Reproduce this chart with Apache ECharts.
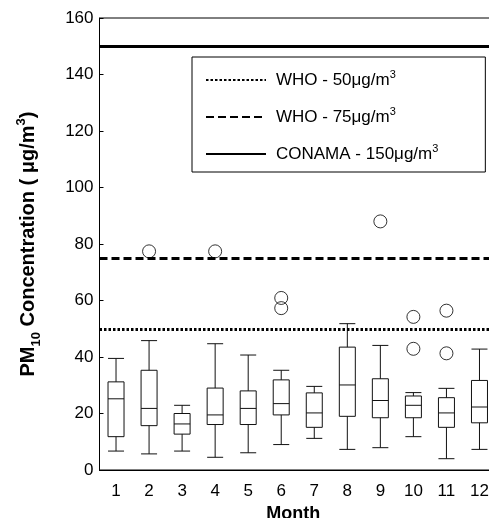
<!DOCTYPE html>
<html style="height: 100%">
<head>
	<meta charset="utf-8">
</head>
<body style="height: 100%; margin: 0; background: #fff">
<div id="container" style="width: 489px; height: 518px"></div>
<script type="text/javascript" src="https://cdn.jsdelivr.net/npm/echarts@6/dist/echarts.min.js"></script>
<script type="text/javascript">
    var months = ['1', '2', '3', '4', '5', '6', '7', '8', '9', '10', '11', '12'];
    // box statistics per month (ug/m3)
    var whiskerLow  = [6.7, 5.7, 6.7, 4.5, 6.1, 9.0, 11.2, 7.3, 7.9, 11.8, 4.0, 7.3];
    var q1          = [11.8, 15.7, 12.7, 16.1, 16.1, 19.5, 15.1, 19.0, 18.5, 18.5, 15.1, 16.7];
    var median      = [25.2, 21.8, 16.3, 19.5, 21.8, 23.5, 20.2, 30.1, 24.6, 22.9, 20.2, 22.3];
    var q3          = [31.2, 35.3, 20.0, 29.0, 28.0, 31.9, 27.3, 43.5, 32.3, 26.2, 25.6, 31.7];
    var whiskerHigh = [39.5, 45.8, 22.9, 44.7, 40.7, 35.3, 29.6, 51.8, 44.1, 27.4, 28.9, 42.8];
    // outliers: [month index, value]
    var outliers = [[1, 77.4], [3, 77.4], [5, 60.9], [5, 57.3], [8, 88.0], [9, 54.2], [9, 42.9], [10, 56.4], [10, 41.3]];
    var limitNames = ['WHO - 50\u03bcg/m3', 'WHO - 75\u03bcg/m3', 'CONAMA - 150\u03bcg/m3'];
    var limitValues = [50, 75, 150];
    var yTicks = [0, 20, 40, 60, 80, 100, 120, 140, 160];

    var font = 'Liberation Sans, Arial, sans-serif';
    var dashTypes = [[2.5, 2], [8, 4], 'solid'];

    var boxData = [];
    for (var i = 0; i < months.length; i++) {
        boxData.push([whiskerLow[i], q1[i], median[i], q3[i], whiskerHigh[i]]);
    }

    var limitSeries = [];
    for (var k = 0; k < limitNames.length; k++) {
        limitSeries.push({
            name: limitNames[k],
            type: 'line',
            data: [],
            symbol: 'none',
            itemStyle: { color: '#000' },
            lineStyle: { color: '#000', width: k === 0 ? 3 : 2.5, type: dashTypes[k] },
            markLine: {
                silent: true,
                symbol: 'none',
                label: { show: false },
                lineStyle: { color: '#000', width: 3, type: dashTypes[k] },
                data: [{ yAxis: limitValues[k] }]
            }
        });
    }

    var dom = document.getElementById("container");
    var myChart = echarts.init(dom);
    var option = {
        animation: false,
        backgroundColor: '#fff',
        textStyle: { fontFamily: font, color: '#000' },
        grid: {
            left: 99.5, top: 18, bottom: 48, right: -7,
            outerBoundsMode: 'none',
            containLabel: false,
            show: true, borderColor: '#000', borderWidth: 1
        },
        legend: {
            data: limitNames,
            orient: 'vertical',
            left: 192,
            top: 57,
            padding: [12, 47, 7, 13],
            itemGap: 15,
            itemWidth: 60,
            itemHeight: 14,
            itemStyle: { opacity: 0 },
            borderColor: '#000',
            borderWidth: 1,
            backgroundColor: '#fff',
            selectedMode: false,
            formatter: function (name) {
                return name.replace(/3$/, '{sup|3}');
            },
            textStyle: {
                fontFamily: font, fontSize: 17, color: '#000', lineHeight: 22,
                padding: [0, 0, 0, 5],
                rich: {
                    sup: { fontFamily: font, fontSize: 11, color: '#000', verticalAlign: 'top', lineHeight: 12 }
                }
            }
        },
        xAxis: {
            type: 'category',
            data: months,
            boundaryGap: true,
            name: 'Month',
            nameLocation: 'middle',
            nameGap: 30,
            nameTextStyle: { fontFamily: font, fontWeight: 'bold', fontSize: 18, color: '#000', padding: [0, 9, 0, 0] },
            axisLine: { lineStyle: { color: '#000', width: 1 } },
            axisTick: { show: false },
            axisLabel: { fontFamily: font, fontSize: 17, color: '#000', margin: 13 },
            splitLine: { show: false }
        },
        yAxis: {
            type: 'value',
            min: yTicks[0],
            max: yTicks[yTicks.length - 1],
            interval: 20,
            name: '{b|PM}{sub|10}{b| Concentration ( \u03bcg/m}{sup|3}{b|)}',
            nameLocation: 'middle',
            nameGap: 57,
            nameTextStyle: {
                fontFamily: font, fontWeight: 'bold', fontSize: 20, color: '#000',
                rich: {
                    b: { fontFamily: font, fontWeight: 'bold', fontSize: 20, color: '#000', lineHeight: 28 },
                    sub: { fontFamily: font, fontWeight: 'bold', fontSize: 13, color: '#000', verticalAlign: 'bottom', lineHeight: 14 },
                    sup: { fontFamily: font, fontWeight: 'bold', fontSize: 13, color: '#000', verticalAlign: 'top', lineHeight: 14 }
                }
            },
            axisLine: { show: true, lineStyle: { color: '#000', width: 1 } },
            axisTick: { show: true, inside: true, length: 4, lineStyle: { color: '#000' } },
            axisLabel: { fontFamily: font, fontSize: 17, color: '#000', margin: 6 },
            splitLine: { show: false }
        },
        series: [{
            name: 'PM10',
            type: 'boxplot',
            data: boxData,
            boxWidth: [16, 16],
            itemStyle: { color: '#fff', borderColor: '#111', borderWidth: 1 }
        }, {
            name: 'outliers',
            type: 'scatter',
            data: outliers,
            symbol: 'circle',
            symbolSize: 13,
            itemStyle: { color: 'rgba(0,0,0,0)', borderColor: '#000', borderWidth: 1 }
        }].concat(limitSeries)
    };

    if (option && typeof option === "object") {
        myChart.setOption(option, true);
    }
</script>
</body>
</html>
